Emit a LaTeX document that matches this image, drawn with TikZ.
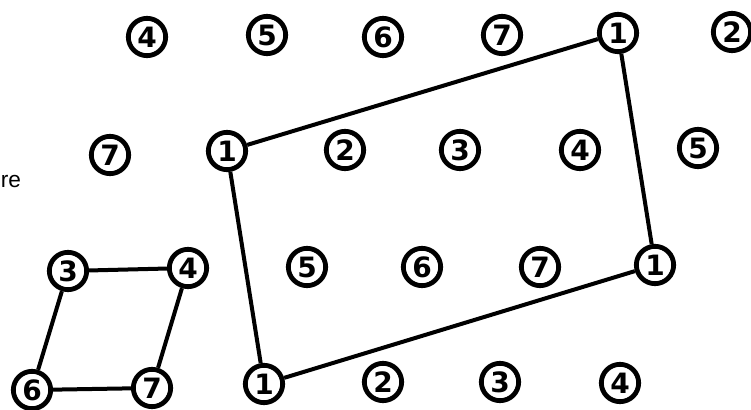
\documentclass[tikz,border=0pt]{standalone}
\usepackage{fontspec}
\setmainfont{Liberation Sans}
\newfontfamily\digitfont{DejaVu Sans}
\begin{document}
\begin{tikzpicture}[x=0.75pt, y=-0.75pt,
  day/.style={draw, circle, line width=3.6pt, minimum size=28pt, inner sep=0pt, font=\digitfont\fontsize{21}{21}\selectfont\bfseries},
  link/.style={line width=3pt}]
\useasboundingbox (0,0) rectangle (751,410);
\node[anchor=base west, inner sep=0pt, font=\fontsize{17}{17}\selectfont] (re) at (0.5,188) {re};
% top row
\node[day] (a4) at (147,37) {4};
\node[day] (a5) at (267,35) {5};
\node[day] (a6) at (383,37) {6};
\node[day] (a7) at (502,35) {7};
\node[day] (a1) at (618,33) {1};
\node[day] (a2) at (732,32) {2};
% second row
\node[day] (b7) at (110,155) {7};
\node[day] (b1) at (227,151) {1};
\node[day] (b2) at (345,150) {2};
\node[day] (b3) at (460,150) {3};
\node[day] (b4) at (580,150) {4};
\node[day] (b5) at (698,148) {5};
% third row
\node[day] (c3) at (68,271) {3};
\node[day] (c4) at (188,268) {4};
\node[day] (c5) at (307,267) {5};
\node[day] (c6) at (422,267) {6};
\node[day] (c7) at (540,267) {7};
\node[day] (c1) at (655,265) {1};
% bottom row
\node[day] (d6) at (32,390) {6};
\node[day] (d7) at (152,388) {7};
\node[day] (d1) at (264,384) {1};
\node[day] (d2) at (383,382) {2};
\node[day] (d3) at (500,382) {3};
\node[day] (d4) at (620,383) {4};
% large parallelogram
\draw[link] (b1) -- (a1);
\draw[link] (a1) -- (c1);
\draw[link] (c1) -- (d1);
\draw[link] (d1) -- (b1);
% small parallelogram
\draw[link] (c3) -- (c4);
\draw[link] (c4) -- (d7);
\draw[link] (d7) -- (d6);
\draw[link] (d6) -- (c3);
\end{tikzpicture}
\end{document}
